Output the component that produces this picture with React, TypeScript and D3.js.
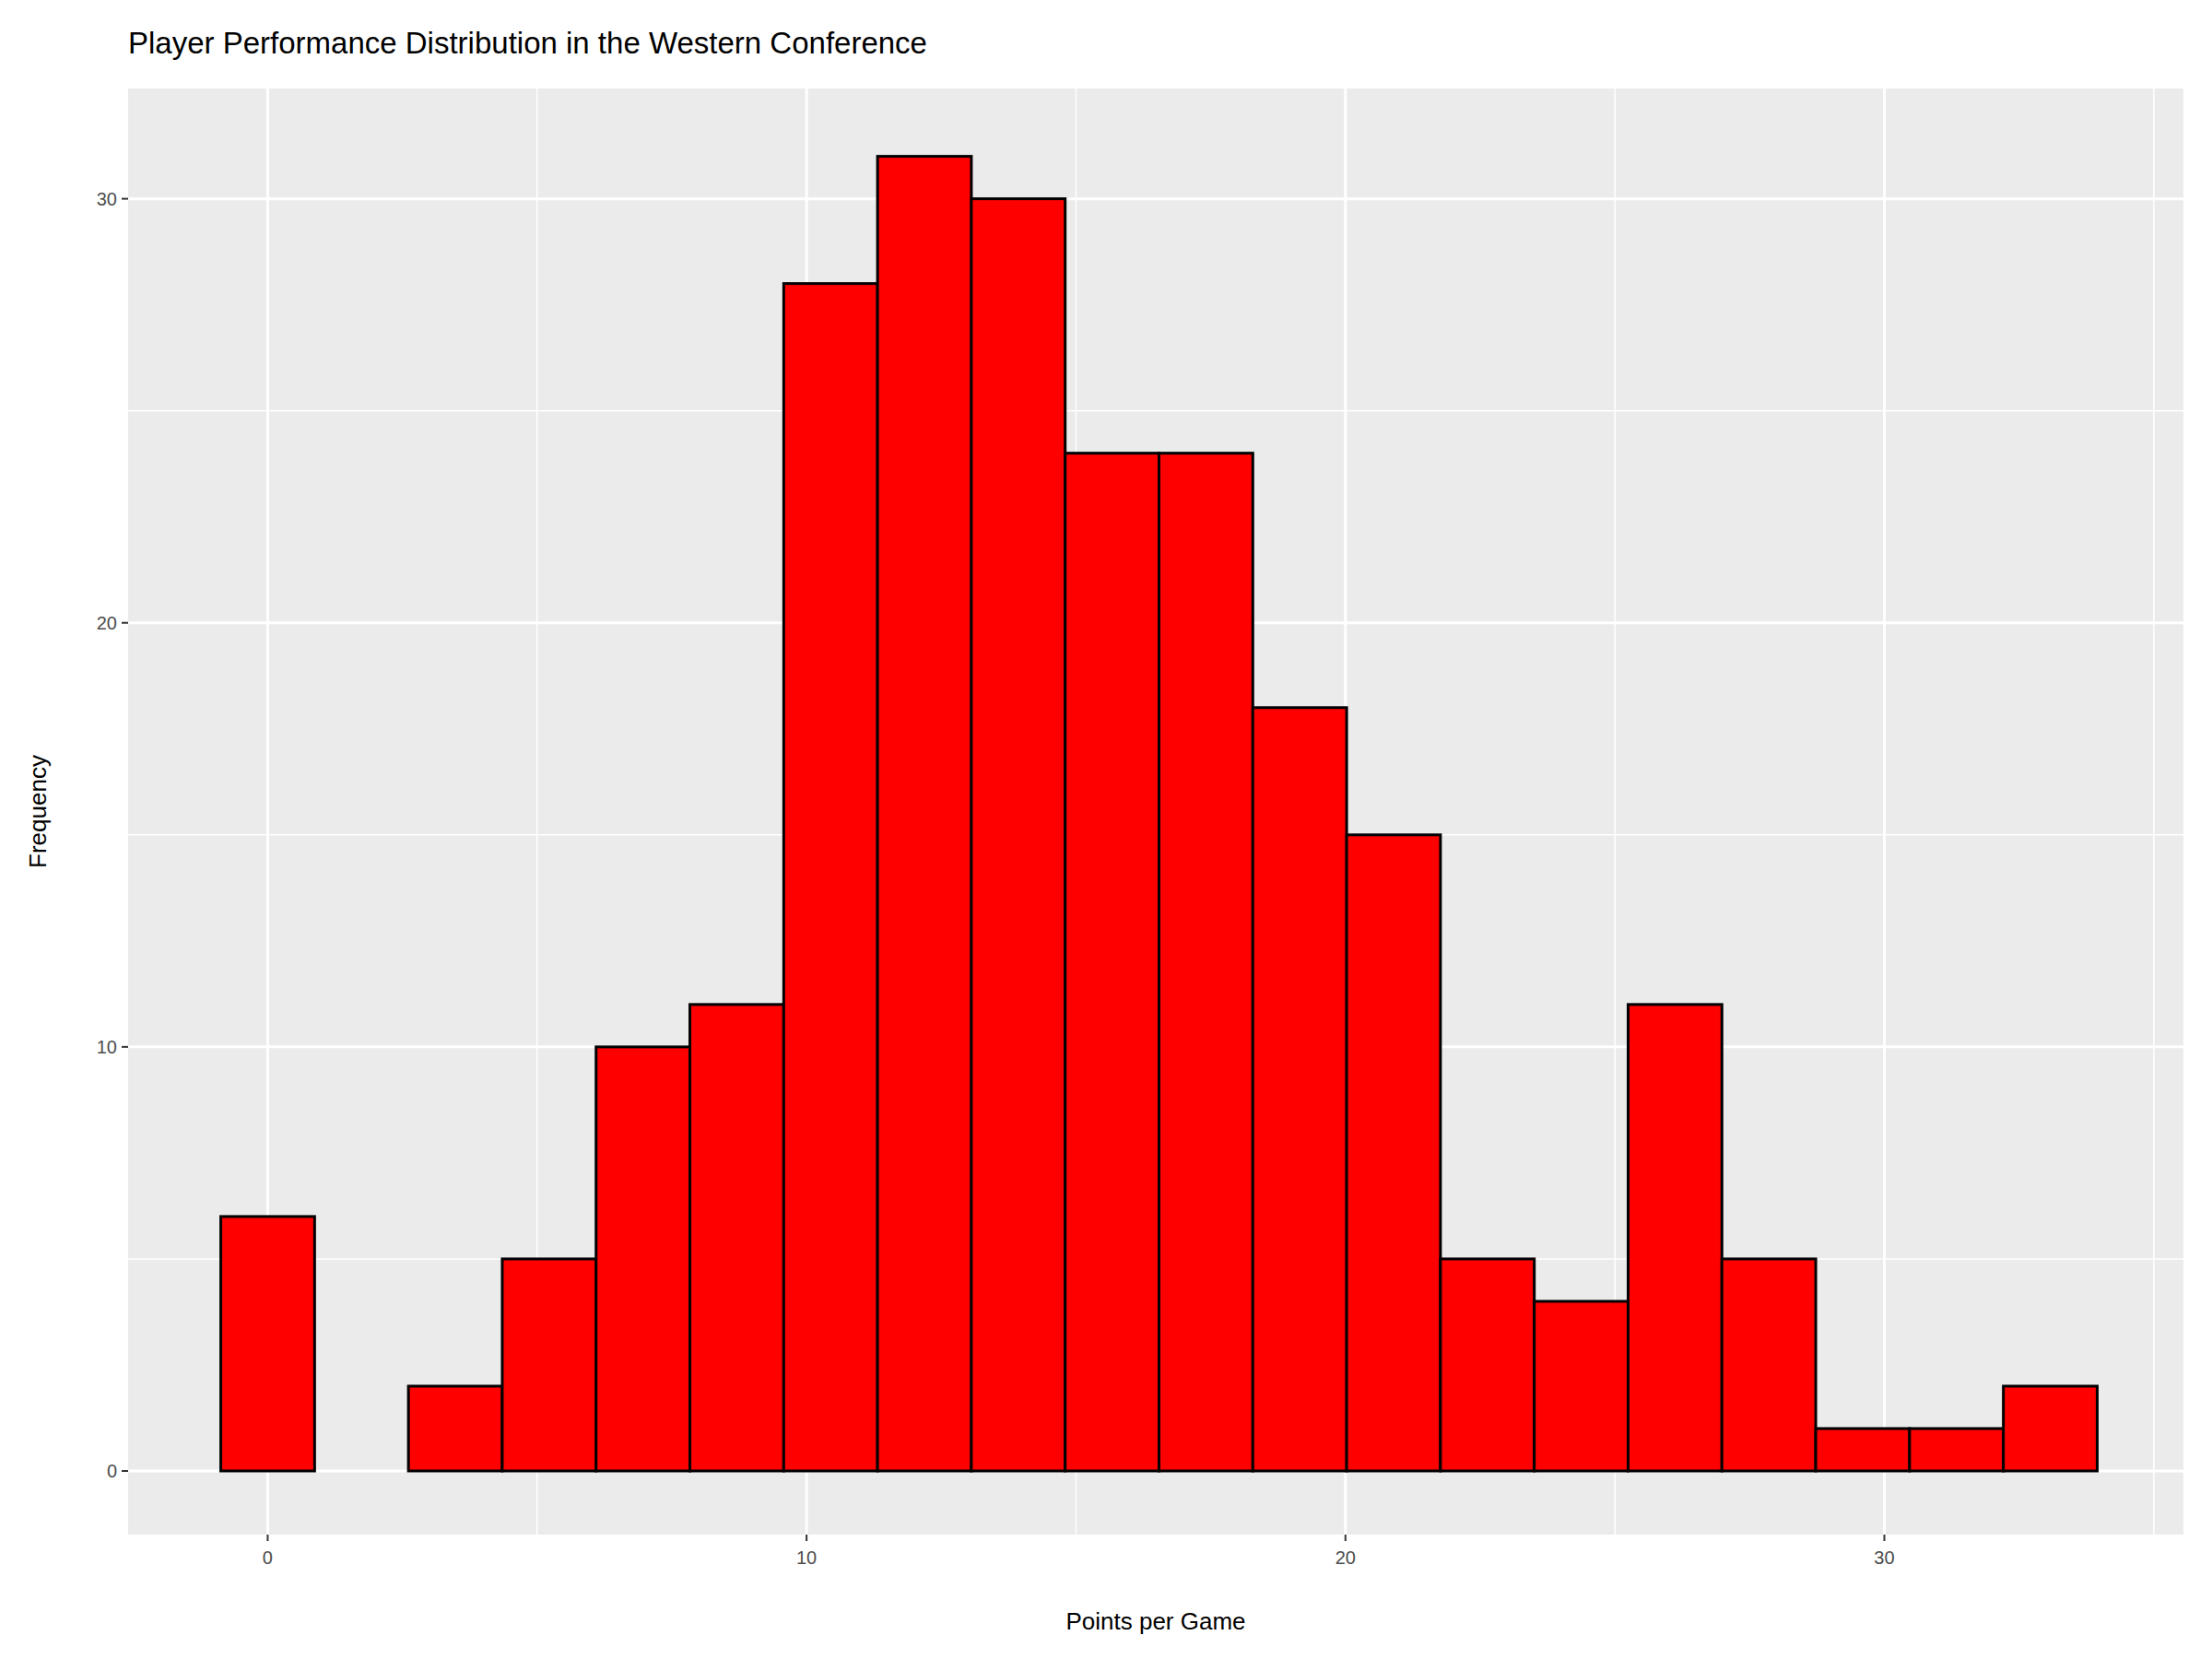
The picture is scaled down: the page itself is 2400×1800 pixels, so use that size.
import React from "react";
import * as d3 from "d3";

const counts = [6, 0, 2, 5, 10, 11, 28, 31, 30, 24, 24, 18, 15, 5, 4, 11, 5, 1, 1, 2];
const binStart = -0.87;
const binWidth = 1.741;
const xTicks = [0, 10, 20, 30];
const yTicks = [0, 10, 20, 30];

export default function App() {
  const W = 2400, H = 1800;
  const L = 139, R = 2369, T = 96, B = 1665;
  const x = d3.scaleLinear().domain([-2.59, 35.55]).range([L, R]);
  const y = d3.scaleLinear().domain([-1.5, 32.6]).range([B, T]);
  const xMinor = [-5, 5, 15, 25, 35].filter(v => v > -2.59 && v < 35.55);
  const yMinor = [5, 15, 25];
  const font = "'Liberation Sans', Arial, sans-serif";
  return (
    <svg width={W} height={H} style={{ position: "absolute", left: 0, top: 0, background: "#fff" }} fontFamily={font}>
      <rect x={L} y={T} width={R - L} height={B - T} fill="#ebebeb" />
      {xMinor.map(v => <line key={"xm" + v} x1={x(v)} x2={x(v)} y1={T} y2={B} stroke="#fff" strokeWidth={1.5} />)}
      {yMinor.map(v => <line key={"ym" + v} y1={y(v)} y2={y(v)} x1={L} x2={R} stroke="#fff" strokeWidth={1.5} />)}
      {xTicks.map(v => <line key={"x" + v} x1={x(v)} x2={x(v)} y1={T} y2={B} stroke="#fff" strokeWidth={3} />)}
      {yTicks.map(v => <line key={"y" + v} y1={y(v)} y2={y(v)} x1={L} x2={R} stroke="#fff" strokeWidth={3} />)}
      {counts.map((c, i) => {
        const x0 = x(binStart + i * binWidth), x1 = x(binStart + (i + 1) * binWidth);
        return <rect key={i} x={x0} width={x1 - x0} y={y(c)} height={y(0) - y(c)} fill="#ff0000" stroke="#000" strokeWidth={3} />;
      })}
      {xTicks.map(v => (
        <g key={"xt" + v}>
          <line x1={x(v)} x2={x(v)} y1={B} y2={B + 7} stroke="#333" strokeWidth={2} />
          <text x={x(v)} y={B + 32} textAnchor="middle" fontSize={20} fill="#4d4d4d">{v}</text>
        </g>
      ))}
      {yTicks.map(v => (
        <g key={"yt" + v}>
          <line x1={L - 7} x2={L} y1={y(v)} y2={y(v)} stroke="#333" strokeWidth={2} />
          <text x={L - 12} y={y(v) + 7} textAnchor="end" fontSize={20} fill="#4d4d4d">{v}</text>
        </g>
      ))}
      <text x={(L + R) / 2} y={1768} textAnchor="middle" fontSize={26} fill="#000">Points per Game</text>
      <text transform={`translate(50,${(T + B) / 2}) rotate(-90)`} textAnchor="middle" fontSize={26} fill="#000">Frequency</text>
      <text x={L} y={58} fontSize={33} fill="#000">Player Performance Distribution in the Western Conference</text>
    </svg>
  );
}
